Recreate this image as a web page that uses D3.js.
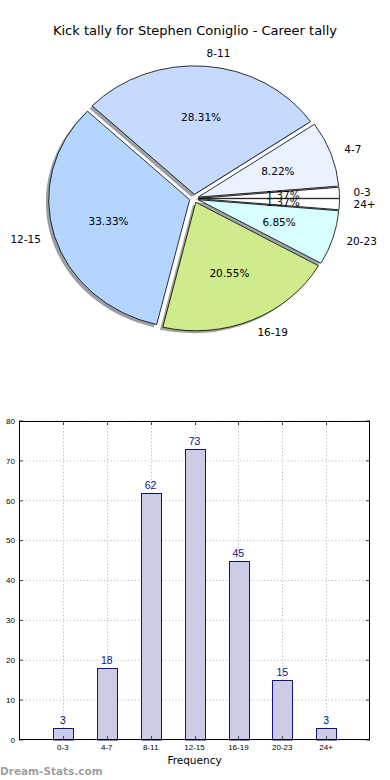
<!DOCTYPE html>
<html><head><meta charset="utf-8">
<script src="https://cdn.jsdelivr.net/npm/d3@7"></script>
<style>
html,body{margin:0;padding:0;background:#fff;}
svg{display:block;}
</style></head>
<body>
<svg id="chart" width="390" height="780"></svg>
<script>
const title = "Kick tally for Stephen Coniglio - Career tally";
const categories = ["0-3","4-7","8-11","12-15","16-19","20-23","24+"];
const counts = [3,18,62,73,45,15,3];
const pieColors = ["#ffffff","#eaf1ff","#c6d9ff","#b4d5ff","#d0eb8c","#d8ffff","#ffffff"];
const yTicks = [0,10,20,30,40,50,60,70,80];
const xLabel = "Frequency";
const watermark = "Dream-Stats.com";

const svg = d3.select("#chart");

// Title
svg.append("text").attr("x",195).attr("y",35).attr("text-anchor","middle")
  .attr("font-family","DejaVu Sans").attr("font-size",13).attr("fill","#000").text(title);

// ---------- Pie ----------
const cx = 194, cy = 198.5, rx = 141, ry = 128.5, explode = 0.032;
const total = d3.sum(counts);
const pie = d3.pie().sort(null).startAngle(Math.PI/2).endAngle(Math.PI/2 - 2*Math.PI);
const arcs = pie(counts);
const arcGen = d3.arc().innerRadius(0).outerRadius(1);

const data = arcs.map((a,i)=>{
  const am = (a.startAngle + a.endAngle)/2;      // d3 angle
  const th = Math.PI/2 - am;                     // matplotlib angle
  const ox = explode*Math.cos(th), oy = -explode*Math.sin(th);
  return {a, i, th, x: cx + rx*ox, y: cy + ry*oy};
});

const shadowG = svg.append("g");
const wedgeG = svg.append("g");
const labelG = svg.append("g");

data.forEach(d=>{
  const c = d3.rgb(pieColors[d.i]);
  const sc = d3.rgb(c.r*0.3, c.g*0.3, c.b*0.3);
  shadowG.append("path")
    .attr("transform",`translate(${d.x - 0.02*rx},${d.y + 0.02*ry}) scale(${rx},${ry})`)
    .attr("d", arcGen(d.a)).attr("fill", sc).attr("fill-opacity",0.5).attr("stroke","none");
});
data.forEach(d=>{
  wedgeG.append("path")
    .attr("transform",`translate(${d.x},${d.y}) scale(${rx},${ry})`)
    .attr("d", arcGen(d.a)).attr("fill", pieColors[d.i])
    .attr("stroke","#000").attr("stroke-width",0.8).attr("vector-effect","non-scaling-stroke")
    .attr("stroke-linejoin","round");
});
data.forEach(d=>{
  const lx = d.x + 1.1*rx*Math.cos(d.th), ly = d.y - 1.1*ry*Math.sin(d.th);
  labelG.append("text").attr("x",lx).attr("y",ly).attr("dy","0.35em")
    .attr("text-anchor", Math.cos(d.th) >= 0 ? "start" : "end")
    .attr("font-family","DejaVu Sans").attr("font-size",10.5).attr("fill","#000")
    .text(categories[d.i]);
  const px = d.x + 0.6*rx*Math.cos(d.th), py = d.y - 0.6*ry*Math.sin(d.th);
  labelG.append("text").attr("x",px).attr("y",py).attr("dy","0.35em")
    .attr("text-anchor","middle")
    .attr("font-family","DejaVu Sans").attr("font-size",10.5).attr("fill","#000")
    .text((counts[d.i]/total*100).toFixed(2)+"%");
});

// ---------- Bar chart ----------
const L = 19, R = 370, T = 421, B = 740;
const x = d3.scaleLinear().domain([-1, categories.length]).range([L, R]);
const y = d3.scaleLinear().domain([0, 80]).range([B, T]);
const step = x(1) - x(0);
const bw = step*0.45;
const gridColor = "#bcbcbc";
const g = svg.append("g");

// grid
g.selectAll(".hg").data(yTicks).enter().append("line")
  .attr("x1",L).attr("x2",R).attr("y1",d=>y(d)).attr("y2",d=>y(d))
  .attr("stroke",gridColor).attr("stroke-width",1).attr("stroke-dasharray","1.2,2.2");
g.selectAll(".vg").data(categories).enter().append("line")
  .attr("x1",(d,i)=>Math.round(x(i))+0.5).attr("x2",(d,i)=>Math.round(x(i))+0.5).attr("y1",T).attr("y2",B)
  .attr("stroke",gridColor).attr("stroke-width",1).attr("stroke-dasharray","1.2,2.2");

// bars
g.selectAll(".bar").data(counts).enter().append("rect")
  .attr("x",(d,i)=>Math.round(x(i)-bw/2)+0.5).attr("width",Math.round(bw))
  .attr("y",d=>Math.round(y(d))+0.5).attr("height",d=>B-Math.round(y(d))-0.5)
  .attr("fill","#ccccE6").attr("stroke","#10108a").attr("stroke-width",1);

// value labels
g.selectAll(".vl").data(counts).enter().append("text")
  .attr("x",(d,i)=>x(i)).attr("y",d=>y(d)-4).attr("text-anchor","middle")
  .attr("font-family","Liberation Sans").attr("font-size",10.5).attr("fill","#101080")
  .text(d=>d);

// ticks (inward, all sides)
const tc = "#444";
yTicks.forEach(v=>{
  g.append("line").attr("x1",L).attr("x2",L+4).attr("y1",y(v)).attr("y2",y(v)).attr("stroke",tc);
  g.append("line").attr("x1",R-4).attr("x2",R).attr("y1",y(v)).attr("y2",y(v)).attr("stroke",tc);
});
categories.forEach((c,i)=>{
  const xx = Math.round(x(i))+0.5;
  g.append("line").attr("x1",xx).attr("x2",xx).attr("y1",B-4).attr("y2",B).attr("stroke",tc);
  g.append("line").attr("x1",xx).attr("x2",xx).attr("y1",T).attr("y2",T+4).attr("stroke",tc);
});

// frame
g.append("rect").attr("x",L+0.5).attr("y",T+0.5).attr("width",R-L-1).attr("height",B-T-1)
  .attr("fill","none").attr("stroke","#000").attr("stroke-width",1);

// tick labels
g.selectAll(".yl").data(yTicks).enter().append("text")
  .attr("x",L-4).attr("y",d=>y(d)).attr("dy","0.35em").attr("text-anchor","end")
  .attr("font-family","Liberation Sans").attr("font-size",8).attr("fill","#000").text(d=>d);
g.selectAll(".xl").data(categories).enter().append("text")
  .attr("x",(d,i)=>x(i)).attr("y",B+10).attr("text-anchor","middle")
  .attr("font-family","Liberation Sans").attr("font-size",8).attr("fill","#000").text(d=>d);

g.append("text").attr("x",(L+R)/2).attr("y",764).attr("text-anchor","middle")
  .attr("font-family","DejaVu Sans").attr("font-size",10.5).attr("fill","#000").text(xLabel);

svg.append("text").attr("x",0).attr("y",775)
  .attr("font-family","DejaVu Sans").attr("font-weight","bold").attr("font-size",10.5).attr("fill","#a0a0a0").text(watermark);
</script>
</body></html>
